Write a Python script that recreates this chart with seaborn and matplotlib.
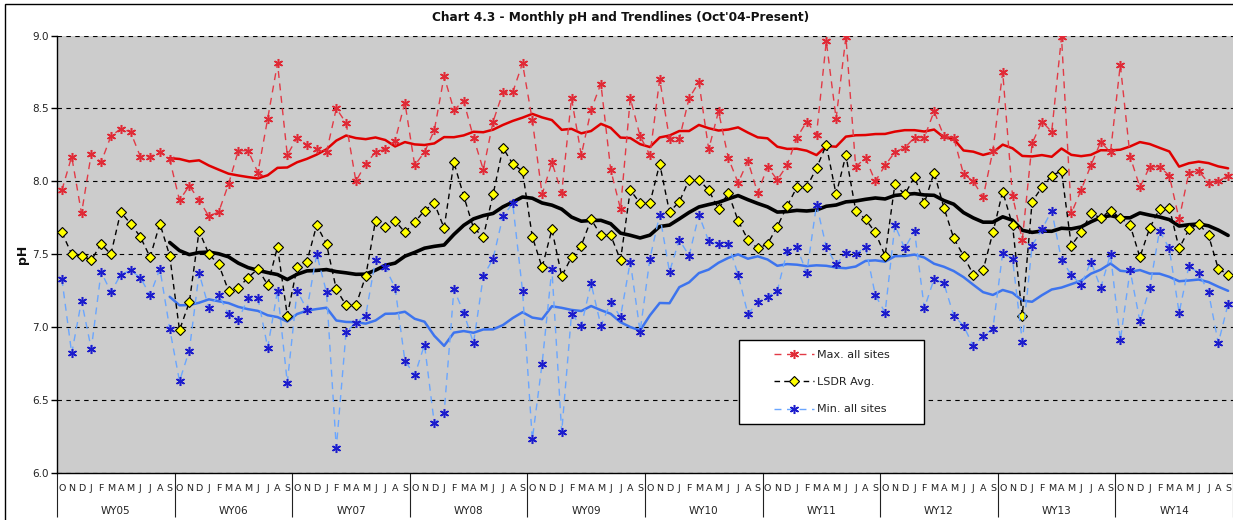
import numpy as np
import pandas as pd
import matplotlib
matplotlib.use("Agg")
from matplotlib import pyplot as plt
from matplotlib.lines import Line2D
from matplotlib.legend_handler import HandlerLine2D
from matplotlib.patches import Rectangle
import seaborn as sns

# 数据（从图上读取的月度 pH 值，WY05 十月 起）
water_years = ['WY05', 'WY06', 'WY07', 'WY08', 'WY09',
               'WY10', 'WY11', 'WY12', 'WY13', 'WY14']
month_letters = ['O', 'N', 'D', 'J', 'F', 'M', 'A', 'M', 'J', 'J', 'A', 'S']

max_ph = [7.94, 8.17, 7.78, 8.19, 8.13, 8.31, 8.36, 8.34, 8.17, 8.17, 8.20, 8.15,
          7.87, 7.97, 7.87, 7.76, 7.79, 7.98, 8.21, 8.21, 8.06, 8.43, 8.81, 8.18,
          8.30, 8.25, 8.22, 8.20, 8.50, 8.40, 8.00, 8.12, 8.20, 8.22, 8.28, 8.54,
          8.11, 8.20, 8.35, 8.72, 8.49, 8.55, 8.30, 8.08, 8.41, 8.61, 8.61, 8.81,
          8.42, 7.91, 8.13, 7.92, 8.57, 8.18, 8.49, 8.67, 8.08, 7.81, 8.57, 8.31,
          8.18, 8.70, 8.29, 8.29, 8.57, 8.68, 8.22, 8.48, 8.16, 7.99, 8.14, 7.92,
          8.10, 8.01, 8.11, 8.30, 8.41, 8.32, 8.96, 8.43, 8.99, 8.10, 8.16, 8.00,
          8.11, 8.20, 8.23, 8.30, 8.30, 8.48, 8.31, 8.30, 8.05, 8.00, 7.89, 8.21,
          8.75, 7.90, 7.60, 8.26, 8.41, 8.34, 8.99, 7.78, 7.94, 8.11, 8.27, 8.20,
          8.80, 8.17, 7.96, 8.10, 8.10, 8.04, 7.74, 8.06, 8.07, 7.99, 8.00, 8.04]

avg_ph = [7.65, 7.50, 7.49, 7.46, 7.57, 7.50, 7.79, 7.71, 7.62, 7.48, 7.71, 7.49,
          6.98, 7.17, 7.66, 7.50, 7.43, 7.25, 7.27, 7.34, 7.40, 7.29, 7.55, 7.08,
          7.41, 7.45, 7.70, 7.57, 7.26, 7.15, 7.15, 7.35, 7.73, 7.69, 7.73, 7.65,
          7.72, 7.80, 7.85, 7.68, 8.13, 7.90, 7.68, 7.62, 7.91, 8.23, 8.12, 8.07,
          7.62, 7.41, 7.67, 7.35, 7.48, 7.56, 7.74, 7.63, 7.63, 7.46, 7.94, 7.85,
          7.85, 8.12, 7.79, 7.86, 8.01, 8.01, 7.94, 7.81, 7.92, 7.73, 7.60, 7.54,
          7.57, 7.69, 7.83, 7.96, 7.96, 8.09, 8.25, 7.91, 8.18, 7.80, 7.74, 7.65,
          7.49, 7.98, 7.91, 8.03, 7.85, 8.06, 7.82, 7.61, 7.49, 7.36, 7.39, 7.65,
          7.93, 7.70, 7.08, 7.86, 7.96, 8.04, 8.07, 7.56, 7.65, 7.78, 7.75, 7.80,
          7.75, 7.70, 7.48, 7.68, 7.81, 7.82, 7.54, 7.67, 7.71, 7.63, 7.40, 7.36]

min_ph = [7.33, 6.82, 7.18, 6.85, 7.38, 7.24, 7.36, 7.39, 7.34, 7.22, 7.40, 6.99,
          6.63, 6.84, 7.37, 7.13, 7.22, 7.09, 7.05, 7.20, 7.20, 6.86, 7.25, 6.62,
          7.25, 7.12, 7.50, 7.24, 6.17, 6.97, 7.03, 7.08, 7.46, 7.41, 7.27, 6.77,
          6.67, 6.88, 6.34, 6.41, 7.26, 7.10, 6.89, 7.35, 7.47, 7.76, 7.85, 7.25,
          6.23, 6.75, 7.40, 6.28, 7.09, 7.01, 7.30, 7.01, 7.17, 7.07, 7.45, 6.97,
          7.47, 7.77, 7.38, 7.60, 7.49, 7.77, 7.59, 7.57, 7.57, 7.36, 7.09, 7.17,
          7.21, 7.25, 7.52, 7.55, 7.37, 7.84, 7.55, 7.43, 7.51, 7.50, 7.55, 7.22,
          7.10, 7.70, 7.54, 7.66, 7.13, 7.33, 7.30, 7.08, 7.01, 6.87, 6.94, 6.99,
          7.51, 7.47, 6.90, 7.56, 7.67, 7.80, 7.46, 7.36, 7.29, 7.45, 7.27, 7.50,
          6.91, 7.39, 7.04, 7.27, 7.66, 7.54, 7.10, 7.42, 7.37, 7.24, 6.89, 7.16]

sns.set_theme(style='white')
plt.rcParams['font.family'] = ['DejaVu Sans']

df = pd.DataFrame({'month': np.arange(len(max_ph)),
                   'max': max_ph, 'avg': avg_ph, 'min': min_ph})
# 12 个月移动平均趋势线
for c in ['max', 'avg', 'min']:
    df[c + '_trend'] = df[c].rolling(12).mean()

W, H = 1233, 520
fig = plt.figure(figsize=(W / 100, H / 100), dpi=100)
ax = fig.add_axes([57 / W, 47 / H, 1176 / W, 437.5 / H])
ax.set_facecolor('#cccccc')

star = (6, 2, 0)
styles = {
    'max': dict(color='#e23a46', linewidth=1, linestyle=(0, (5, 4)), marker=star,
                markersize=6.5, markeredgecolor='#e02a36', markeredgewidth=1.1,
                markerfacecolor='#e02a36'),
    'avg': dict(color='black', linewidth=1, linestyle=(0, (4, 3)), marker='D',
                markersize=5, markeredgecolor='black', markeredgewidth=0.8,
                markerfacecolor='#ffff00'),
    'min': dict(color='#6aa6ff', linewidth=1, linestyle=(0, (5, 4)), marker=star,
                markersize=6.5, markeredgecolor='#1c1ccc', markeredgewidth=1.1,
                markerfacecolor='#1c1ccc'),
}
trend_styles = {
    'max': dict(color='#e00000', linewidth=1.8),
    'avg': dict(color='black', linewidth=2.6),
    'min': dict(color='#3d74ee', linewidth=1.8),
}
labels = {'max': 'Max. all sites', 'avg': 'LSDR Avg.', 'min': 'Min. all sites'}

for c in ['max', 'avg', 'min']:
    sns.lineplot(data=df, x='month', y=c + '_trend', ax=ax, legend=False,
                 errorbar=None, zorder=2, **trend_styles[c])
for c in ['max', 'avg', 'min']:
    sns.lineplot(data=df, x='month', y=c, ax=ax, legend=False,
                 errorbar=None, zorder=3, **styles[c])

ax.set_xlabel('')
ax.set_ylabel('')
ax.set_xlim(-0.5, len(max_ph) - 0.5)
ax.set_ylim(6, 9)
ax.set_yticks(np.arange(6, 9.01, 0.5))
ax.set_yticklabels([f'{v:.1f}' for v in np.arange(6, 9.01, 0.5)])
ax.yaxis.grid(True, color='black', linestyle=(0, (4, 4)), linewidth=0.8)
ax.set_axisbelow(True)
ax.tick_params(axis='y', left=True, length=4, width=1, color='black',
               labelsize=7.5, pad=2, labelcolor='#222222')

# 月份字母 + 水年分隔线
bounds = np.arange(-0.5, len(max_ph), 12)
ax.set_xticks(bounds)
ax.set_xticklabels([])
ax.set_xticks(df['month'], minor=True)
ax.set_xticklabels(month_letters * len(water_years), minor=True)
ax.tick_params(axis='x', which='major', bottom=True, length=32, width=0.8,
               color='#222222', direction='out')
ax.tick_params(axis='x', which='minor', bottom=True, length=0, pad=8,
               labelsize=6.8, labelcolor='#222222')
for i, wy in enumerate(water_years):
    ax.text(bounds[i] + 6, -0.086, wy, transform=ax.get_xaxis_transform(),
            ha='center', va='center', fontsize=7.5, color='#222222')

for s in ['top', 'right']:
    ax.spines[s].set_visible(False)
for s in ['left', 'bottom']:
    ax.spines[s].set_color('black')
    ax.spines[s].set_linewidth(1)

fig.text(621 / W, 1 - 18 / H, "Chart 4.3 - Monthly pH and Trendlines (Oct'04-Present)",
         ha='center', va='center', fontsize=8.7, fontweight='bold', color='#111111')
fig.text(22 / W, 1 - 254 / H, 'pH', rotation=90, ha='center', va='center',
         fontsize=9, fontweight='bold', color='#111111')

# 外框
fig.patches.append(Rectangle((5 / W, -0.1), 1.2, (H - 4) / H + 0.1,
                             transform=fig.transFigure, fill=False,
                             edgecolor='black', linewidth=1))

handles = [Line2D([], [], **styles[c]) for c in ['max', 'avg', 'min']]
leg = ax.legend(handles, [labels[c] for c in ['max', 'avg', 'min']],
                loc='upper left', bbox_to_anchor=(0.580, 0.1029, 0.1573, 0.201),
                mode='expand', borderaxespad=0, frameon=True, fancybox=False,
                edgecolor='black', framealpha=1, facecolor='white', fontsize=8,
                labelspacing=1.55, borderpad=0.9, handlelength=5.85,
                handletextpad=0.3, numpoints=1,
                handler_map={Line2D: HandlerLine2D(xpad=2.25)})
leg.get_frame().set_linewidth(1)
for t in leg.get_texts():
    t.set_color('#222222')

fig.savefig('out.png', dpi=100)
